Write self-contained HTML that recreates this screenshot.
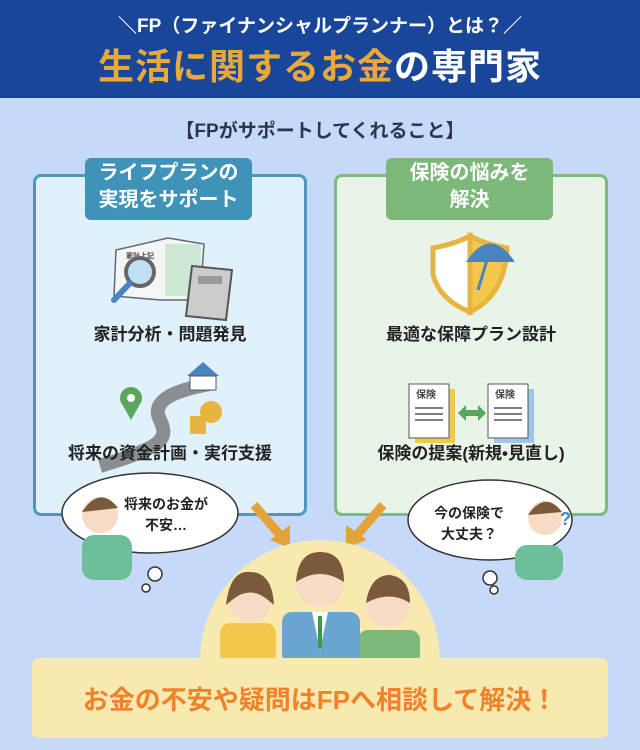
<!DOCTYPE html>
<html><head><meta charset="utf-8"><style>
*{margin:0;padding:0;box-sizing:border-box}
body{width:640px;height:750px;background:#c6d9f8;font-family:"Liberation Sans","Noto Sans CJK JP",sans-serif;position:relative;overflow:hidden;font-weight:bold}
.a{position:absolute}
.hdr{left:0;top:0;width:640px;height:98px;background:#1a4699}
.t1{left:0;width:640px;top:11px;text-align:center;color:#fff;font-size:19px}
.t2{left:0;width:640px;top:38px;text-align:center;color:#fff;font-size:36px;letter-spacing:1px}
.t2 span{color:#e8a93a}
.sub{left:0;width:640px;top:116px;text-align:center;color:#2b3552;font-size:19px}
.box{border-radius:8px;border:3px solid}
.tab{border-radius:6px;color:#fff;font-size:20px;text-align:center;line-height:27px;padding-top:2px}
.lbl{font-size:17px;color:#222;text-align:center}
</style></head><body>
<div class="a hdr"></div>
<div class="a t1">＼FP（ファイナンシャルプランナー）とは？／</div>
<div class="a t2"><span>生活に関するお金</span>の専門家</div>
<div class="a sub">【FPがサポートしてくれること】</div>

<div class="a box" style="left:33px;top:174px;width:274px;height:342px;background:#e0f1fb;border-color:#4a9ac0"></div>
<div class="a tab" style="left:85px;top:158px;width:167px;height:62px;background:#3f93b8">ライフプランの<br>実現をサポート</div>
<div class="a box" style="left:334px;top:174px;width:274px;height:342px;background:#e8f4e8;border-color:#7cbb7c"></div>
<div class="a tab" style="left:386px;top:158px;width:167px;height:62px;background:#7cb87a">保険の悩みを<br>解決</div>

<svg class="a" style="left:0;top:0" width="640" height="750">
<polygon points="116,250 168,238 204,244 200,300 160,300 114,296" fill="#f4f6f4" stroke="#667" stroke-width="1.5"/>
<rect x="165" y="244" width="36" height="52" fill="#cde8d4"/>
<text x="126" y="258" font-size="7" fill="#444">家計上記</text>
<circle cx="140" cy="272" r="14" fill="#bfe0f5" stroke="#666" stroke-width="4"/>
<line x1="130" y1="283" x2="114" y2="300" stroke="#4a84c0" stroke-width="6" stroke-linecap="round"/>
<polygon points="192,266 232,270 226,320 186,316" fill="#ccc" stroke="#555" stroke-width="2"/>
<rect x="198" y="276" width="24" height="8" fill="#999"/>
<path d="M100,466 C160,448 170,440 160,420 C150,400 175,390 215,383" stroke="#8a8e92" stroke-width="14" fill="none"/>
<circle cx="131" cy="398" r="11" fill="#5aa65c"/><polygon points="122,404 140,404 131,420" fill="#5aa65c"/><circle cx="131" cy="398" r="4" fill="#fff"/>
<polygon points="187,376 203,362 219,376" fill="#4a84c0"/><rect x="190" y="376" width="26" height="14" fill="#fff" stroke="#555"/>
<circle cx="211" cy="412" r="11" fill="#e8b440"/><rect x="190" y="416" width="16" height="18" fill="#e8b440"/>
<path d="M433,248 Q455,244 470,236 L470,312 Q440,300 433,275 Z" fill="#fff" stroke="#e8b440" stroke-width="5"/>
<path d="M470,236 Q485,244 507,248 Q505,295 470,312 Z" fill="#f2c94c" stroke="#e8b440" stroke-width="5"/>
<path d="M466,262 Q490,225 515,262 Z" fill="#4a84c0"/>
<line x1="490" y1="250" x2="478" y2="290" stroke="#4a84c0" stroke-width="3"/>
<rect x="415" y="389" width="40" height="54" fill="#f2c94c"/><rect x="409" y="384" width="40" height="54" fill="#fff" stroke="#555"/>
<rect x="494" y="389" width="40" height="54" fill="#9cc6ea"/><rect x="488" y="384" width="40" height="54" fill="#fff" stroke="#555"/>
<text x="416" y="398" font-size="10" fill="#444">保険</text><text x="495" y="398" font-size="10" fill="#444">保険</text>
<g stroke="#555" stroke-width="1.5"><line x1="415" y1="408" x2="443" y2="408"/><line x1="415" y1="414" x2="443" y2="414"/><line x1="415" y1="420" x2="443" y2="420"/><line x1="494" y1="408" x2="522" y2="408"/><line x1="494" y1="414" x2="522" y2="414"/><line x1="494" y1="420" x2="522" y2="420"/></g>
<polygon points="458,413 466,405 466,410 478,410 478,405 486,413 478,421 478,416 466,416 466,421" fill="#5aa65c"/>
<g fill="#fff" stroke="#333" stroke-width="1.5">
<ellipse cx="150" cy="513" rx="88" ry="40"/><circle cx="155" cy="574" r="7"/><circle cx="146" cy="588" r="4"/>
<ellipse cx="490" cy="520" rx="82" ry="40"/><circle cx="490" cy="578" r="7"/><circle cx="494" cy="590" r="4"/>
</g>
<circle cx="100" cy="515" r="18" fill="#f6dcc4"/><path d="M82,512 Q100,485 118,508" fill="#7a5a3a"/>
<rect x="82" y="535" width="50" height="45" rx="12" fill="#6cbf9a"/>
<circle cx="545" cy="518" r="17" fill="#f6dcc4"/><path d="M528,515 Q545,490 562,512" fill="#7a5a3a"/>
<rect x="515" y="545" width="48" height="35" rx="12" fill="#6cbf9a"/>
<text x="560" y="525" font-size="18" fill="#4a84c0">?</text>
<g stroke="#e3a33a" stroke-width="9" fill="#e3a33a">
<line x1="254" y1="505" x2="280" y2="535"/><polygon points="270,540 290,548 290,525" stroke="none"/>
<line x1="383" y1="505" x2="357" y2="535"/><polygon points="367,540 346,548 346,525" stroke="none"/>
</g>
<path d="M200,660 A120,120 0 0 1 440,660 Z" fill="#f8e9b0"/>
<circle cx="250" cy="600" r="22" fill="#f6dcc4"/><path d="M226,605 Q230,570 250,572 Q272,572 274,605 L268,600 Q250,585 232,600Z" fill="#7a5a3a"/>
<rect x="220" y="623" width="56" height="40" rx="10" fill="#f2c94c"/>
<circle cx="388" cy="605" r="22" fill="#f6dcc4"/><path d="M366,603 Q370,575 390,575 Q410,578 410,603 Q390,590 366,603Z" fill="#7a5a3a"/>
<rect x="358" y="630" width="62" height="35" rx="10" fill="#7cb87a"/>
<circle cx="320" cy="583" r="24" fill="#f6dcc4"/><path d="M296,582 Q298,552 320,552 Q344,552 344,582 Q320,566 296,582Z" fill="#7a5a3a"/>
<rect x="282" y="612" width="78" height="52" rx="10" fill="#6aa5cf"/><polygon points="312,612 328,612 320,650" fill="#fff"/><line x1="320" y1="616" x2="320" y2="648" stroke="#3a9a4a" stroke-width="4"/>
</svg>

<div class="a lbl" style="left:33px;width:274px;top:320px">家計分析・問題発見</div>
<div class="a lbl" style="left:33px;width:274px;top:439px">将来の資金計画・実行支援</div>
<div class="a lbl" style="left:334px;width:274px;top:320px">最適な保障プラン設計</div>
<div class="a lbl" style="left:334px;width:274px;top:439px">保険の提案(新規•見直し)</div>
<div class="a" style="left:124px;top:494px;font-size:14px;line-height:21px;text-align:center;color:#222">将来のお金が<br>不安…</div>
<div class="a" style="left:434px;top:503px;font-size:14px;line-height:21px;text-align:center;color:#222">今の保険で<br>大丈夫？</div>

<div class="a" style="left:32px;top:658px;width:576px;height:80px;background:#f8e9b0;border-radius:7px"></div>
<div class="a" style="left:32px;top:680px;width:576px;text-align:center;color:#f0822a;font-size:26px">お金の不安や疑問はFPへ相談して解決！</div>
</body></html>
